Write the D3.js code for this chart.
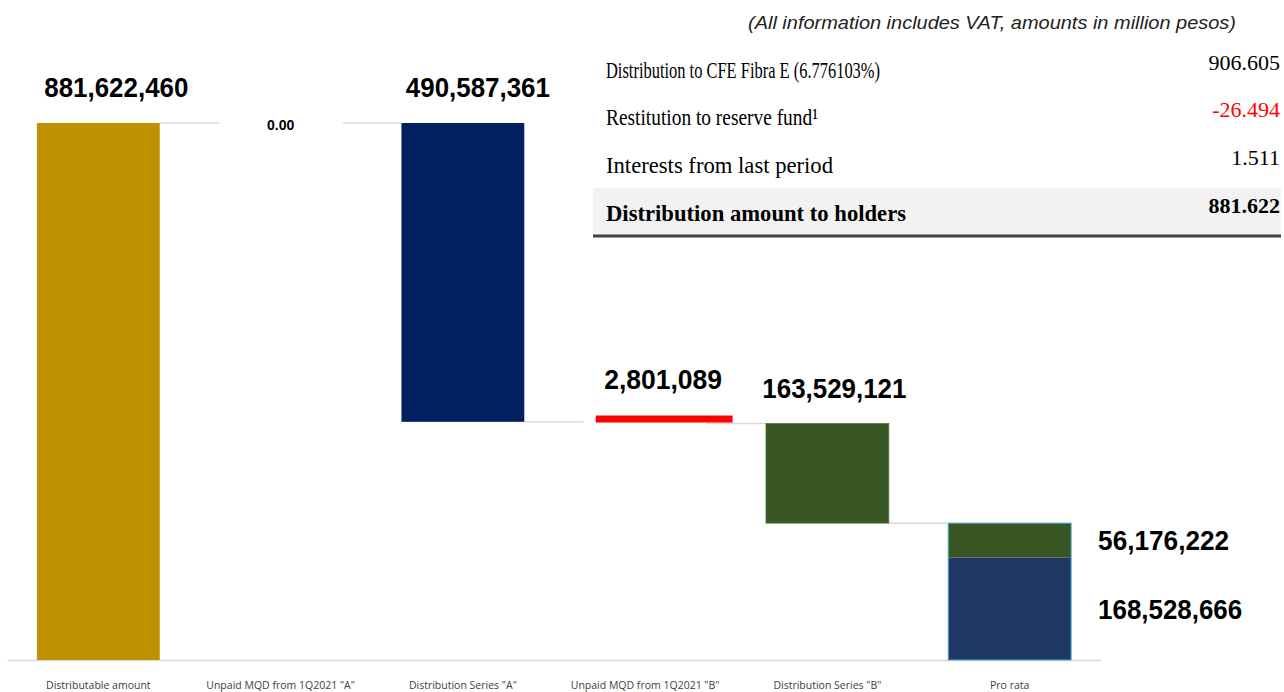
<!DOCTYPE html>
<html>
<head>
<meta charset="utf-8">
<script src="https://cdn.jsdelivr.net/npm/d3@7"></script>
<style>
  body { margin: 0; background: #fff; }
  svg { display: block; }
</style>
</head>
<body>
<div id="chart"></div>
<script>
// waterfall data
const categories = [
  "Distributable amount",
  "Unpaid MQD from 1Q2021 \"A\"",
  "Distribution Series \"A\"",
  "Unpaid MQD from 1Q2021 \"B\"",
  "Distribution Series \"B\"",
  "Pro rata"
];
const kinds = ["total", "step", "step", "step", "step", "split"];
const amounts = [881622460, 0, -490587361, -2801089, -163529121, 0];
const amountLabels = ["881,622,460", "0.00", "490,587,361", "2,801,089", "163,529,121", ""];
const proRataParts = [168528666, 56176222];
const proRataLabels = ["168,528,666", "56,176,222"];

// table in the top right
const tableTitle = "(All information includes VAT, amounts in million pesos)";
const tableLabels = ["Distribution to CFE Fibra E (6.776103%)", "Restitution to reserve fund\u00b9", "Interests from last period", "Distribution amount to holders"];
const tableValues = ["906.605", "-26.494", "1.511", "881.622"];

const W = 1284, H = 692;
const svg = d3.select("#chart").append("svg")
  .attr("width", W).attr("height", H);

const x = d3.scaleBand()
  .domain(categories)
  .range([7, 1101])
  .paddingInner(0.326)
  .paddingOuter(0.164);

const y = d3.scaleLinear()
  .domain([0, amounts[0]])
  .range([660, 123]);

const colors = ["#bf9000", "#bf9000", "#002060", "#ff0000", "#375623"];
const bw = x.bandwidth();

// running totals
let running = 0;
const bars = categories.map((c, i) => {
  let start, end;
  if (kinds[i] === "total") { start = 0; end = amounts[i]; }
  else if (kinds[i] === "split") { start = 0; end = running; }
  else { start = running; end = running + amounts[i]; }
  running = end;
  return { cat: c, start, end, i };
});

// connectors
const grid = svg.append("g");
bars.forEach((b, i) => {
  if (i === bars.length - 1) return;
  grid.append("line")
    .attr("x1", x(b.cat) + bw).attr("x2", x(bars[i + 1].cat))
    .attr("y1", y(b.end)).attr("y2", y(b.end))
    .attr("stroke", "#d9d9d9").attr("stroke-width", 1.5);
  if (b.start === b.end) {
    grid.append("line")
      .attr("x1", x(b.cat)).attr("x2", x(b.cat) + bw)
      .attr("y1", y(b.end)).attr("y2", y(b.end))
      .attr("stroke", "#d9d9d9").attr("stroke-width", 1.5);
  }
});

// axis
const xAxis = svg.append("g")
  .attr("transform", "translate(0,660)")
  .call(d3.axisBottom(x).tickSize(0).tickPadding(22));
xAxis.select(".domain").attr("stroke", "#d9d9d9").attr("stroke-width", 1.5);
xAxis.selectAll("text")
  .attr("fill", "#404040")
  .style("font-family", "'Open Sans', 'Liberation Sans', sans-serif")
  .style("font-size", "10.5px");

// bars
const labelFont = "'Liberation Sans', Arial, sans-serif";
bars.forEach((b, i) => {
  if (kinds[i] === "split") return;
  if (b.start === b.end) return;
  let top = Math.min(y(b.start), y(b.end));
  let h = Math.abs(y(b.start) - y(b.end));
  let bx = x(b.cat), bwid = bw;
  if (h < 7) { top = top + h - 8; h = 7; bx += 12; bwid += 14; } // tiny step drawn thicker
  svg.append("rect")
    .attr("x", bx).attr("y", top)
    .attr("width", bwid).attr("height", h)
    .attr("fill", colors[i])
    .attr("stroke", i === 4 ? "#4e7a3a" : "none")
    .attr("stroke-width", 0.8);
});

// pro rata stack
const pr = bars[5];
let base = 0;
const prColors = ["#203864", "#375623"];
proRataParts.forEach((v, k) => {
  svg.append("rect")
    .attr("x", x(pr.cat)).attr("y", y(base + v))
    .attr("width", bw).attr("height", y(base) - y(base + v))
    .attr("fill", prColors[k]);
  svg.append("text")
    .attr("x", x(pr.cat) + bw + 27)
    .attr("y", (y(base) + y(base + v)) / 2 + 10)
    .attr("font-family", labelFont).attr("font-weight", "bold")
    .attr("font-size", 28)
    .attr("textLength", proRataLabels[k].length * 13.1)
    .attr("lengthAdjust", "spacingAndGlyphs")
    .attr("fill", "#000")
    .text(proRataLabels[k]);
  base += v;
});
svg.append("rect")
  .attr("x", x(pr.cat)).attr("y", y(pr.end))
  .attr("width", bw).attr("height", y(0) - y(pr.end))
  .attr("fill", "none").attr("stroke", "#4bacc6").attr("stroke-width", 1);

// value labels
const labelDx = [18, 0, 15, 18, 7];
bars.forEach((b, i) => {
  const t = amountLabels[i];
  if (!t) return;
  const cx = x(b.cat) + bw / 2 + labelDx[i];
  if (t === "0.00") {
    svg.append("rect")
      .attr("x", x(b.cat)).attr("y", y(b.end) - 6)
      .attr("width", bw + 1).attr("height", 12)
      .attr("fill", "#fff");
    svg.append("text")
      .attr("x", cx).attr("y", y(b.end) + 7)
      .attr("text-anchor", "middle")
      .attr("font-family", labelFont).attr("font-weight", "bold")
      .attr("font-size", 14)
      .text(t);
    return;
  }
  const top = Math.min(y(b.start), y(b.end));
  const lift = i === 3 ? 7 : 0;
  svg.append("text")
    .attr("x", cx).attr("y", top - lift - 26)
    .attr("text-anchor", "middle")
    .attr("font-family", labelFont).attr("font-weight", "bold")
    .attr("font-size", 28)
    .attr("textLength", t.length * 13.1)
    .attr("lengthAdjust", "spacingAndGlyphs")
    .text(t);
});

// table
const tb = svg.append("g");
tb.append("text")
  .attr("x", 1236).attr("y", 29)
  .attr("text-anchor", "end")
  .attr("font-family", labelFont).attr("font-style", "italic")
  .attr("font-size", 18).attr("fill", "#222")
  .attr("textLength", 488).attr("lengthAdjust", "spacingAndGlyphs")
  .text(tableTitle);

tb.append("rect")
  .attr("x", 593).attr("y", 188).attr("width", 688).attr("height", 47)
  .attr("fill", "#f2f2f2");
tb.append("line")
  .attr("x1", 593).attr("x2", 1281).attr("y1", 236).attr("y2", 236)
  .attr("stroke", "#404040").attr("stroke-width", 3);

const serif = "'Liberation Serif', 'Times New Roman', serif";
const rowY = [70, 117, 165, 213];
const labelW = [274, 212, 227, 300];
tableLabels.forEach((lab, r) => {
  const bold = r === 3;
  tb.append("text")
    .attr("x", 606).attr("y", rowY[r] + 8)
    .attr("font-family", serif)
    .attr("font-size", 23)
    .attr("font-weight", bold ? "bold" : "normal")
    .attr("fill", "#000")
    .attr("textLength", labelW[r]).attr("lengthAdjust", "spacingAndGlyphs")
    .text(lab);
  tb.append("text")
    .attr("x", 1280).attr("y", rowY[r])
    .attr("text-anchor", "end")
    .attr("font-family", serif)
    .attr("font-size", 22)
    .attr("font-weight", bold ? "bold" : "normal")
    .attr("fill", r === 1 ? "#ff0000" : "#000")
    .text(tableValues[r]);
});
</script>
</body>
</html>
